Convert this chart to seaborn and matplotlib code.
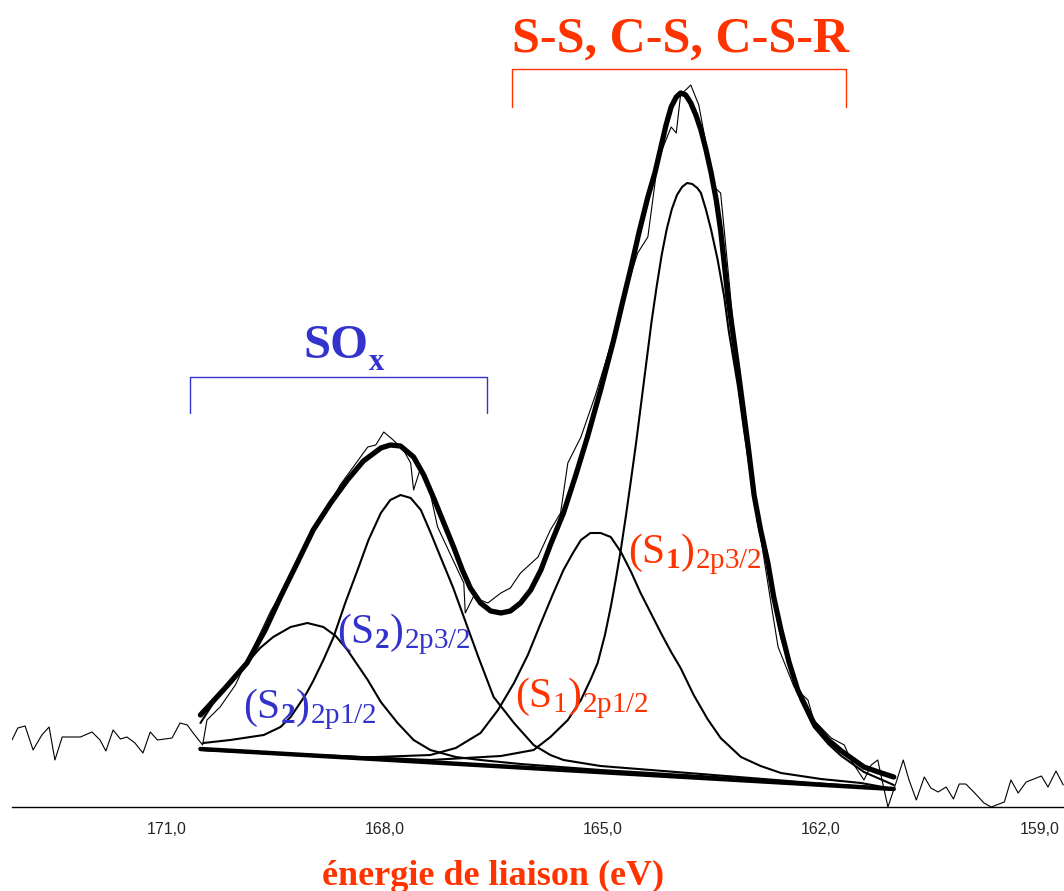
import numpy as np
import pandas as pd
import seaborn as sns
import matplotlib.pyplot as plt
from matplotlib.lines import Line2D
from matplotlib.ticker import FixedLocator, FuncFormatter

# S 2p XPS spectrum, binding energy (eV) / intensity (arbitrary counts)
raw_ev = [173.12, 173.04, 172.94, 172.83, 172.71, 172.61, 172.53, 172.43, 172.18, 172.02,
          171.91, 171.83, 171.73, 171.63, 171.54, 171.43, 171.32, 171.22, 171.12, 170.92,
          170.81, 170.71, 170.63, 170.50, 170.44, 170.26, 170.05, 169.80, 169.68, 169.57,
          169.36, 169.16, 168.92, 168.74, 168.61, 168.40, 168.23, 168.12, 168.01, 167.88,
          167.74, 167.64, 167.60, 167.50, 167.41, 167.27, 167.09, 166.91, 166.89, 166.78,
          166.58, 166.40, 166.27, 166.13, 165.89, 165.72, 165.58, 165.48, 165.30, 165.10,
          164.89, 164.68, 164.52, 164.38, 164.24, 164.06, 163.99, 163.93, 163.79, 163.68,
          163.47, 163.38, 163.33, 163.20, 163.00, 162.83, 162.69, 162.59, 162.37, 162.18,
          162.10, 161.86, 161.68, 161.59, 161.41, 161.31, 161.22, 161.17, 161.08, 160.97,
          160.87, 160.79, 160.69, 160.58, 160.49, 160.39, 160.28, 160.18, 160.10, 160.01,
          159.90, 159.76, 159.66, 159.48, 159.39, 159.29, 159.18, 158.97, 158.88, 158.77,
          158.67]
raw_cps = [67, 79, 81, 57, 72, 80, 47, 70, 70, 75,
           67, 56, 77, 68, 70, 64, 54, 75, 67, 69,
           84, 82, 74, 62, 87, 100, 122, 160, 178, 195,
           222, 250, 285, 305, 322, 343, 360, 362, 375, 367,
           357, 344, 317, 340, 327, 280, 252, 224, 194, 210,
           204, 214, 219, 234, 250, 277, 294, 344, 370, 412,
           462, 517, 554, 570, 647, 680, 674, 712, 722, 702,
           620, 614, 577, 477, 370, 270, 205, 160, 120, 107,
           87, 69, 62, 47, 27, 42, 47, 30, 0, 24,
           47, 27, 7, 30, 19, 15, 20, 8, 23, 23,
           15, 4, 0, 5, 27, 14, 25, 31, 20, 36,
           22]

# fitted envelope
env_ev = [170.53, 170.19, 169.89, 169.64, 169.43, 169.20, 168.98, 168.74, 168.51, 168.29,
          168.05, 167.92, 167.78, 167.60, 167.46, 167.33, 167.19, 167.05, 166.93, 166.82,
          166.68, 166.54, 166.40, 166.27, 166.13, 165.99, 165.85, 165.72, 165.54, 165.37,
          165.21, 165.03, 164.85, 164.73, 164.61, 164.50, 164.38, 164.28, 164.20, 164.13,
          164.06, 163.99, 163.93, 163.86, 163.79, 163.72, 163.65, 163.58, 163.51, 163.44,
          163.38, 163.28, 163.14, 163.00, 162.92, 162.83, 162.73, 162.65, 162.55, 162.44,
          162.32, 162.10, 161.90, 161.72, 161.41, 161.17, 161.00]
env_cps = [92, 119, 144, 177, 210, 244, 277, 304, 327, 346,
           359, 362, 361, 350, 332, 310, 285, 260, 237, 219,
           204, 196, 194, 196, 204, 217, 237, 262, 294, 332,
           370, 417, 467, 504, 540, 575, 610, 635, 660, 682,
           700, 710, 714, 712, 704, 692, 677, 657, 634, 607,
           577, 510, 437, 360, 312, 277, 244, 210, 177, 145,
           117, 84, 67, 56, 40, 34, 30]

# background
bg_ev = [170.53, 165.77, 161.00]
bg_cps = [58, 38, 18]

# (S2) 2p1/2
s2a_ev = [170.53, 170.37, 170.22, 170.05, 169.89, 169.71, 169.53, 169.29, 169.06, 168.84,
          168.67, 168.51, 168.37, 168.23, 168.05, 167.82, 167.60, 167.37, 167.02, 166.68,
          166.13, 165.03, 163.65, 162.28, 161.00]
s2a_cps = [84, 102, 117, 131, 144, 159, 170, 180, 184, 180,
           171, 157, 142, 127, 105, 84, 67, 57, 50, 47,
           43, 37, 31, 24, 18]

# (S2) 2p3/2
s2b_ev = [170.49, 170.12, 169.66, 169.43, 169.29, 169.16, 169.07, 168.98, 168.84, 168.70,
          168.54, 168.37, 168.22, 168.05, 167.92, 167.78, 167.64, 167.50, 167.37, 167.23,
          167.06, 166.91, 166.71, 166.50, 166.22, 165.95, 165.72, 165.54, 165.03, 163.65,
          162.28, 161.00]
s2b_cps = [64, 67, 72, 80, 90, 104, 114, 126, 147, 170,
           204, 237, 267, 294, 307, 312, 309, 297, 275, 250,
           220, 190, 150, 110, 84, 62, 52, 47, 41, 33,
           25, 18]

# (S1) 2p1/2
s1a_ev = [170.49, 168.47, 167.37, 167.02, 166.68, 166.44, 166.22, 166.03, 165.85, 165.69,
          165.54, 165.41, 165.30, 165.17, 165.03, 164.89, 164.75, 164.61, 164.48, 164.34,
          164.20, 164.06, 163.93, 163.75, 163.56, 163.38, 163.10, 162.83, 162.55, 162.00,
          161.45, 161.00]
s1a_cps = [57, 49, 52, 59, 74, 97, 124, 152, 184, 212,
           237, 254, 267, 274, 274, 270, 255, 235, 214, 194,
           174, 155, 139, 112, 88, 69, 50, 41, 34, 28,
           24, 18]

# (S1) 2p3/2
s1b_ev = [170.49, 167.37, 166.40, 165.95, 165.72, 165.48, 165.30, 165.17, 165.07, 164.97,
          164.89, 164.82, 164.75, 164.68, 164.61, 164.54, 164.47, 164.40, 164.33, 164.26,
          164.19, 164.12, 164.05, 163.98, 163.91, 163.84, 163.77, 163.70, 163.65, 163.58,
          163.51, 163.42, 163.33, 163.27, 163.14, 163.06, 162.96, 162.87, 162.73, 162.55,
          162.41, 162.28, 162.10, 161.90, 161.72, 161.41, 161.00]
s1b_cps = [57, 47, 51, 57, 70, 87, 107, 127, 144, 172,
           200, 228, 258, 292, 328, 365, 405, 445, 485, 520,
           552, 578, 598, 612, 620, 624, 623, 619, 614, 597,
           577, 547, 510, 477, 420, 378, 330, 285, 238, 170,
           137, 107, 80, 63, 51, 35, 22]

ticks = [171.0, 168.0, 165.0, 162.0, 159.0]

RED = '#ff3300'
BLUE = '#3333cc'

sns.set_style('white')
plt.rcParams['font.family'] = ['Liberation Serif', 'DejaVu Serif']
plt.rcParams['mathtext.fontset'] = 'custom'
plt.rcParams['mathtext.rm'] = 'Liberation Serif'
plt.rcParams['mathtext.bf'] = 'Liberation Serif:bold'
plt.rcParams['mathtext.it'] = 'Liberation Serif:italic'

W, H = 1064, 891
fig = plt.figure(figsize=(W / 100, H / 100), dpi=100)
ax = fig.add_axes([12 / W, (H - 807) / H, (W - 12) / W, 807 / H])


def fx(px):
    return px / W


def fy(py):
    return 1 - py / H


sns.lineplot(x=raw_ev, y=raw_cps, ax=ax, color='black', lw=0.8, zorder=2)
sns.lineplot(x=bg_ev, y=bg_cps, ax=ax, color='black', lw=3.2, zorder=3)
for e, c in [(s2a_ev, s2a_cps), (s2b_ev, s2b_cps), (s1a_ev, s1a_cps), (s1b_ev, s1b_cps)]:
    sns.lineplot(x=e, y=c, ax=ax, color='black', lw=1.5, zorder=3)
sns.lineplot(x=env_ev, y=env_cps, ax=ax, color='black', lw=3.8, zorder=4)

ax.set_xlim(173.12, 158.66)
ax.set_ylim(0, 807)
ax.set_xlabel('')
ax.set_ylabel('')
ax.set_yticks([])
for s in ['left', 'top', 'right']:
    ax.spines[s].set_visible(False)
ax.spines['bottom'].set_linewidth(1.0)
ax.spines['bottom'].set_color('black')
ax.xaxis.set_major_locator(FixedLocator(ticks))
ax.xaxis.set_major_formatter(FuncFormatter(lambda v, p: f'{v:.1f}'.replace('.', ',')))
ax.tick_params(axis='x', direction='inout', length=9, width=1, color='black',
               labelsize=11.5, pad=6)
for lab in ax.get_xticklabels():
    lab.set_fontfamily('Liberation Sans')

# group headers and brackets
fig.text(fx(681), fy(52), 'S-S, C-S, C-S-R', ha='center', va='baseline',
         fontsize=36, fontweight='bold', color=RED)
fig.add_artist(Line2D([fx(512), fx(512), fx(846), fx(846)], [fy(107), fy(69), fy(69), fy(107)],
                      transform=fig.transFigure, color=RED, lw=1))
fig.text(fx(303), fy(358), 'SO', ha='left', va='baseline', fontsize=35,
         fontweight='bold', color=BLUE)
fig.text(fx(369), fy(370), 'x', ha='left', va='baseline', fontsize=22,
         fontweight='bold', color=BLUE)
fig.add_artist(Line2D([fx(190), fx(190), fx(487), fx(487)], [fy(413), fy(377), fy(377), fy(413)],
                      transform=fig.transFigure, color=BLUE, lw=1))

# component labels
labels = [
    (243, 718, r'$\mathrm{(S}_{\mathbf{2}}\mathrm{)}_{\mathrm{2p1/2}}$', BLUE),
    (337, 643, r'$\mathrm{(S}_{\mathbf{2}}\mathrm{)}_{\mathrm{2p3/2}}$', BLUE),
    (515, 707, r'$\mathrm{(S}_{\mathrm{1}}\mathrm{)}_{\mathrm{2p1/2}}$', RED),
    (628, 563, r'$\mathrm{(S}_{\mathbf{1}}\mathrm{)}_{\mathrm{2p3/2}}$', RED),
]
for px, py, txt, col in labels:
    fig.text(fx(px), fy(py), txt, ha='left', va='baseline', fontsize=30, color=col)

fig.text(fx(493), fy(885), 'énergie de liaison (eV)', ha='center', va='baseline',
         fontsize=26, fontweight='bold', color=RED)

plt.savefig('out.png', dpi=100)
